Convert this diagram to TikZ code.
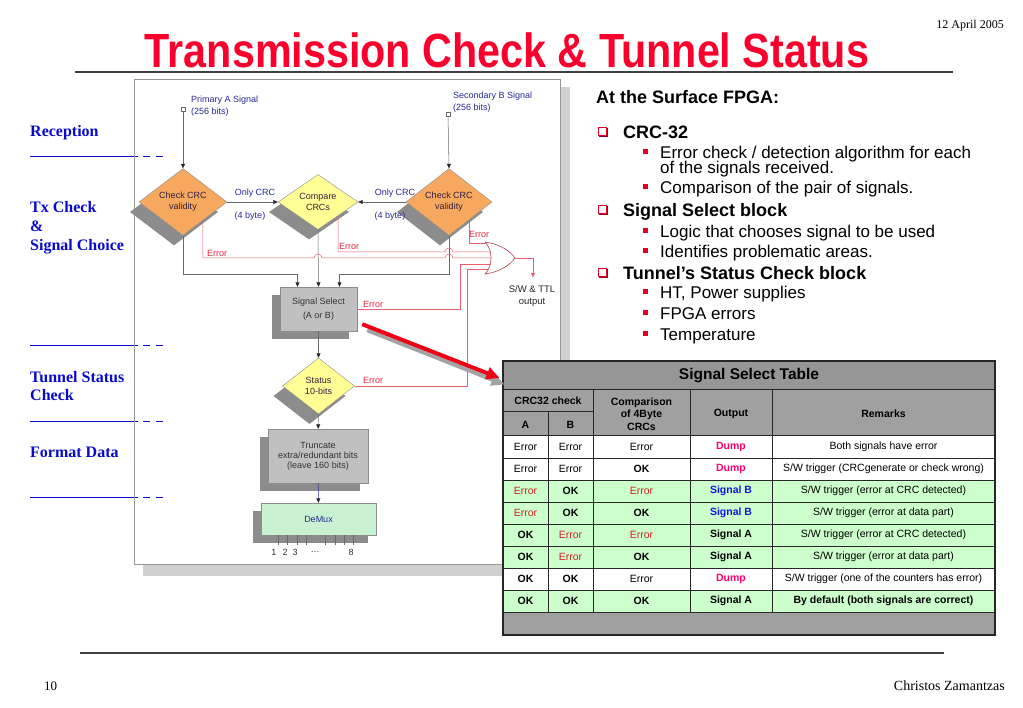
\documentclass[tikz,border=0pt]{standalone}
\usepackage{graphicx}
\usepackage{fontspec}
\setmainfont{Liberation Serif}
\newfontfamily\arial{Liberation Sans}
\usetikzlibrary{shapes.geometric,arrows.meta,calc,shadows}
\definecolor{titlered}{RGB}{250,0,45}
\definecolor{navyc}{RGB}{40,40,150}
\definecolor{labbluec}{RGB}{10,10,200}
\definecolor{orangec}{RGB}{247,168,95}
\definecolor{yellowc}{RGB}{255,255,150}
\definecolor{boxgrayc}{RGB}{192,192,192}
\definecolor{shadowc}{RGB}{140,140,140}
\definecolor{demuxc}{RGB}{200,242,210}
\definecolor{redlc}{RGB}{235,95,110}
\definecolor{errtxtc}{RGB}{225,40,60}
\definecolor{gatec}{RGB}{175,70,80}
\definecolor{glinec}{RGB}{105,105,105}
\definecolor{framec}{RGB}{150,150,150}
\definecolor{bandc}{RGB}{208,208,208}
\definecolor{tgrayc}{RGB}{160,160,160}
\definecolor{ttitlec}{RGB}{150,150,150}
\definecolor{tgreenc}{RGB}{204,255,204}
\definecolor{tredc}{RGB}{205,35,35}
\definecolor{dumpc}{RGB}{255,0,110}
\definecolor{sigbc}{RGB}{20,20,220}
\definecolor{bulredc}{RGB}{230,0,40}
\definecolor{bulreddc}{RGB}{150,0,30}
\definecolor{bigredc}{RGB}{240,0,20}
\definecolor{dtextc}{RGB}{50,30,60}
\newcommand\tbE{Error}
\newcommand\tbR{\textcolor{tredc}{Error}}
\newcommand\tbOK{\textbf{OK}}
\newcommand\tbDump{\textcolor{dumpc}{\textbf{Dump}}}
\newcommand\tbSB{\textcolor{sigbc}{\textbf{Signal B}}}
\newcommand\tbSA{\textbf{Signal A}}
\tikzset{
 fc/.style={font=\arial\fontsize{9}{11}\selectfont},
 diam/.style={diamond, draw=black!45, line width=0.4pt, inner sep=0pt, align=center, fc, text=dtextc,
   drop shadow={shadow xshift=-9pt, shadow yshift=-10pt, fill=shadowc, opacity=1}},
 gbox/.style={rectangle, draw=black!45, line width=0.4pt, fill=boxgrayc, inner sep=0pt, align=center, fc, text=black!80,
   drop shadow={shadow xshift=-8pt, shadow yshift=-8pt, fill=shadowc, opacity=1}},
 gln/.style={draw=glinec, line width=0.5pt},
 arr/.style={-{Triangle[length=4.5pt,width=4pt,color=black!85]}},
 rln/.style={draw=redlc, line width=0.5pt},
 errl/.style={fc, text=errtxtc, inner sep=0pt, anchor=west},
 navyt/.style={fc, text=navyc, inner sep=0pt},
 lab/.style={font=\bfseries\fontsize{16}{16}\selectfont, text=labbluec, anchor=base west, inner sep=0pt},
 hd/.style={font=\arial\bfseries\fontsize{18}{18}\selectfont, anchor=base west, inner sep=0pt},
 sub/.style={font=\arial\fontsize{17}{17}\selectfont, anchor=base west, inner sep=0pt},
 tcell/.style={font=\arial\fontsize{10.5}{12.5}\selectfont, inner sep=0pt, align=center},
 tgrid/.style={draw=black!85, line width=1pt},
}
\newcommand\tabrow[7]{%
 \fill[#2] (503,{414+22*#1}) rectangle (995,{436+22*#1});
 \node[tcell] (r#1a) at (525.5,{425+22*#1}) {#3};
 \node[tcell] (r#1b) at (570.5,{425+22*#1}) {#4};
 \node[tcell] (r#1c) at (641.5,{425+22*#1}) {#5};
 \node[tcell] (r#1o) at (731,{425+22*#1}) {#6};
 \node[tcell] (r#1r) at (883.5,{425+22*#1}) {#7};
}
\newcommand\chk[2]{%
 \draw[bulreddc, line width=1.5pt] ({#1-4},{#2+4.3}) -- ({#1+4.3},{#2+4.3}) -- ({#1+4.3},{#2-4});
 \draw[bulredc, line width=0.9pt] ({#1-4.5},{#2-4.5}) rectangle ({#1+3.5},{#2+3.5});
}
\newcommand\sbul[1]{\fill[bulredc] (643,{#1-4}) rectangle (648,{#1+1});}
\begin{document}
\begin{tikzpicture}[x=1pt,y=-1pt]
\useasboundingbox (0,0) rectangle (1023,708);
\fill[white] (0,0) rectangle (1023,708);

% ---- header / footer
\node[anchor=base, text=titlered, inner sep=0pt] (title) at (507,68)
  {\scalebox{0.86}[1]{\arial\bfseries\fontsize{48}{48}\selectfont Transmission Check \& Tunnel Status}};
\node[anchor=base east, inner sep=0pt] (date) at (1004,29) {\fontsize{12}{12}\selectfont 12 April 2005};
\draw[black!75, line width=1.5pt] (75,72) -- (953,72);
\draw[black!75, line width=1.5pt] (80,653) -- (944,653);
\node[anchor=base west, inner sep=0pt] (pg) at (44,690) {\fontsize{13}{13}\selectfont 10};
\node[anchor=base east, inner sep=0pt] (auth) at (1005,690) {\fontsize{14}{14}\selectfont Christos Zamantzas};

% ---- left labels
\node[lab] (l1) at (30,136.5) {Reception};
\node[lab] (l2) at (30,212.5) {Tx Check};
\node[lab] (l3) at (30,231.5) {\&};
\node[lab] (l4) at (30,250.5) {Signal Choice};
\node[lab] (l5) at (30,382.5) {Tunnel Status};
\node[lab] (l6) at (30,400.5) {Check};
\node[lab] (l7) at (30,457.5) {Format Data};
\foreach \yy in {156,345,421,497}{
  \draw[labbluec, line width=0.8pt] (30,\yy) -- (138,\yy) (143,\yy) -- (150,\yy) (156,\yy) -- (163,\yy);
}

% ---- frame
\fill[bandc] (560,87) rectangle (570,576);
\fill[bandc] (143,565) rectangle (570,576);
\draw[framec, line width=0.6pt] (134,79) rectangle (560,564);

% ---- inputs
\node[draw=glinec, fill=white, minimum size=4pt, inner sep=0pt, line width=0.4pt] (pa) at (183,109) {};
\node[draw=glinec, fill=white, minimum size=4pt, inner sep=0pt, line width=0.4pt] (pb) at (448,114) {};
\node[navyt, anchor=west, align=left, font=\arial\fontsize{9}{12}\selectfont] (pal) at (191,106) {Primary A Signal\\(256 bits)};
\node[navyt, anchor=west, align=left, font=\arial\fontsize{9}{12}\selectfont] (pbl) at (453,102) {Secondary B Signal\\(256 bits)};

% ---- decision nodes
\node[diam, fill=orangec, minimum width=88pt, minimum height=55pt] (cA) at (183,202) {Check CRC\\validity};
\node[diam, fill=yellowc, minimum width=80pt, minimum height=55pt] (cmp) at (318,202) {Compare\\CRCs};
\node[diam, fill=orangec, minimum width=86pt, minimum height=55pt] (cB) at (449,202) {Check CRC\\validity};
\node[gbox, minimum width=77pt, minimum height=44pt, font=\arial\fontsize{9}{13}\selectfont] (sel) at (318.5,309) {\raisebox{-2pt}{\shortstack{Signal Select\\[2pt](A or B)}}};
\node[diam, fill=yellowc, minimum width=72pt, minimum height=56pt] (st) at (318.5,386) {Status\\10-bits};
\node[gbox, minimum width=100pt, minimum height=54pt, font=\arial\fontsize{9}{10}\selectfont] (trunc) at (318,456) {Truncate\\extra/redundant bits\\(leave 160 bits)};
\node[gbox, fill=demuxc, text=navyc, minimum width=115pt, minimum height=32pt] (demux) at (318.5,519) {DeMux};

% ---- gray connectors
\draw[gln, arr] (pa) -- (cA.north);
\draw[gln, arr] (pb) -- (cB.north);
\draw[gln, arr] (cA.east) -- (cmp.west);
\draw[gln, arr] (cB.west) -- (cmp.east);
\draw[gln, arr] (cA.south) |- ([xshift=-21pt,yshift=13pt]sel.north) -- ([xshift=-21pt]sel.north);
\draw[gln, arr] (cmp.south) -- (sel.north);
\draw[gln, arr] (cB.south) |- ([xshift=21pt,yshift=13pt]sel.north) -- ([xshift=21pt]sel.north);
\draw[gln, arr] (sel) -- (st);
\draw[gln, arr] (st) -- (trunc);
\draw[draw=navyc, line width=0.5pt, arr] (trunc) -- (demux);
\foreach \dx in {-40.5,-31.5,-21.5,-12.5,6.5,16.5,25.5,34.5}{
  \draw[gln] ([xshift=\dx pt]demux.south) -- ++(0,10);
}
\node[fc, inner sep=0pt, text=black!80] (o1) at (274,552) {1};
\node[fc, inner sep=0pt, text=black!80] (o2) at (285,552) {2};
\node[fc, inner sep=0pt, text=black!80] (o3) at (295,552) {3};
\node[fc, inner sep=0pt, text=black!80] (odots) at (315,552) {…};
\node[fc, inner sep=0pt, text=black!80] (o8) at (351,552) {8};

\node[navyt] (oc1) at (255,193) {Only CRC};
\node[navyt] (ob1) at (250,216) {(4 byte)};
\node[navyt] (oc2) at (395,193) {Only CRC};
\node[navyt] (ob2) at (390,216) {(4 byte)};

% ---- OR gate
\coordinate (or1) at (486,243);
\coordinate (or2) at (491,252);
\coordinate (or3) at (492,258);
\coordinate (or4) at (491,264);
\coordinate (or5) at (488,269);
\coordinate (orout) at (515,258);
\draw[gatec, line width=0.6pt] (485,242) .. controls (493,250) and (493,266) .. (485,274)
   .. controls (500,272) and (510,265) .. (orout) .. controls (510,251) and (500,244) .. (485,242);

% ---- red error lines
\draw[rln] ($(cA.east)!0.55!(cA.south)$) |- (314,258) arc[start angle=180,end angle=360,radius=4]
   -- (445,258) arc[start angle=180,end angle=360,radius=4] -- (or3);
\draw[rln] ($(cmp.east)!0.5!(cmp.south)$) |- (445,252) arc[start angle=180,end angle=360,radius=4] -- (or2);
\draw[rln] ($(cB.east)!0.53!(cB.south)$) |- (or1);
\draw[rln] (sel.east) -| ($(or4)+(-31,0)$) -- (or4);
\draw[rln] (st.east) -| ($(or5)+(-21,0)$) -- (or5);
\node[fc, text=black!85, align=center, inner sep=0pt, font=\arial\fontsize{9.5}{12}\selectfont] (swout) at (532,296) {S/W \& TTL\\output};
\draw[rln, -{Triangle[length=4.5pt,width=4pt,color=redlc]}] (orout) -| ($(swout.north)+(1,-8)$);

\node[errl] (e1) at (207,253) {Error};
\node[errl] (e2) at (339,246) {Error};
\node[errl] (e3) at (469,234) {Error};
\node[errl] (e4) at (363,304) {Error};
\node[errl] (e5) at (363,380) {Error};

% ---- right text
\node[hd] (h0) at (596,103.5) {At the Surface FPGA:};
\chk{603}{132}
\node[hd] (h1) at (623,138.5) {CRC-32};
\sbul{153}
\node[sub] (s1) at (660,159) {Error check / detection algorithm for each};
\node[sub] (s1b) at (660,174) {of the signals received.};
\sbul{188}
\node[sub] (s2) at (660,194) {Comparison of the pair of signals.};
\chk{603}{210}
\node[hd] (h2) at (623,216.5) {Signal Select block};
\sbul{232}
\node[sub] (s3) at (660,238) {Logic that chooses signal to be used};
\sbul{252}
\node[sub] (s4) at (660,258) {Identifies problematic areas.};
\chk{603}{273}
\node[hd] (h3) at (623,279.5) {Tunnel’s Status Check block};
\sbul{293}
\node[sub] (s5) at (660,299) {HT, Power supplies};
\sbul{314}
\node[sub] (s6) at (660,320) {FPGA errors};
\sbul{335}
\node[sub] (s7) at (660,341) {Temperature};

% ---- table
\fill[tgrayc] (503,390) rectangle (995,436);
\fill[tgrayc] (503,613) rectangle (995,635);
\node[draw=black!85, line width=1pt, fill=ttitlec, minimum width=492pt, minimum height=29pt, inner sep=0pt,
      font=\arial\bfseries\fontsize{15.5}{15.5}\selectfont] (tt) at (749,375.5) {Signal Select Table};
\node[tcell, font=\arial\bfseries\fontsize{10.5}{12.5}\selectfont] (hcrc) at (548,401) {CRC32 check};
\node[tcell, font=\arial\bfseries\fontsize{10.5}{12.5}\selectfont] (hA) at (525.5,425) {A};
\node[tcell, font=\arial\bfseries\fontsize{10.5}{12.5}\selectfont] (hB) at (570.5,425) {B};
\node[tcell, font=\arial\bfseries\fontsize{10.5}{12.5}\selectfont] (hcmp) at (641.5,414) {Comparison\\of 4Byte\\CRCs};
\node[tcell, font=\arial\bfseries\fontsize{10.5}{12.5}\selectfont] (hout) at (731,414) {Output};
\node[tcell, font=\arial\bfseries\fontsize{10.5}{12.5}\selectfont] (hrem) at (883.5,414) {Remarks};
\tabrow{1}{white}{\tbE}{\tbE}{\tbE}{\tbDump}{Both signals have error}
\tabrow{2}{white}{\tbE}{\tbE}{\tbOK}{\tbDump}{S/W trigger (CRCgenerate or check wrong)}
\tabrow{3}{tgreenc}{\tbR}{\tbOK}{\tbR}{\tbSB}{S/W trigger (error at CRC detected)}
\tabrow{4}{tgreenc}{\tbR}{\tbOK}{\tbOK}{\tbSB}{S/W trigger (error at data part)}
\tabrow{5}{tgreenc}{\tbOK}{\tbR}{\tbR}{\tbSA}{S/W trigger (error at CRC detected)}
\tabrow{6}{tgreenc}{\tbOK}{\tbR}{\tbOK}{\tbSA}{S/W trigger (error at data part)}
\tabrow{7}{white}{\tbOK}{\tbOK}{\tbE}{\tbDump}{S/W trigger (one of the counters has error)}
\tabrow{8}{tgreenc}{\tbOK}{\tbOK}{\tbOK}{\tbSA}{\textbf{By default (both signals are correct)}}
\foreach \yy in {436,458,480,502,524,546,568,590,612}{\draw[tgrid] (503,\yy) -- (995,\yy);}
\draw[tgrid] (503,412) -- (593,412);
\draw[tgrid] (548,412) -- (548,612);
\foreach \xx in {593,690,772}{\draw[tgrid] (\xx,390) -- (\xx,612);}
\draw[draw=black!85, line width=1.6pt] (503,361) rectangle (995,635);

% ---- big red arrow
\draw[shadowc!80, line width=4pt, -{Triangle[length=13pt,width=12pt]}] ($(sel.south east)+(10,-1)$) -- ($(tt.west)+(2,9)$);
\draw[bigredc, line width=4pt, -{Triangle[length=13pt,width=12pt]}] ($(sel.south east)+(5,-7)$) -- ($(tt.west)+(-3,2.5)$);
\end{tikzpicture}
\end{document}
